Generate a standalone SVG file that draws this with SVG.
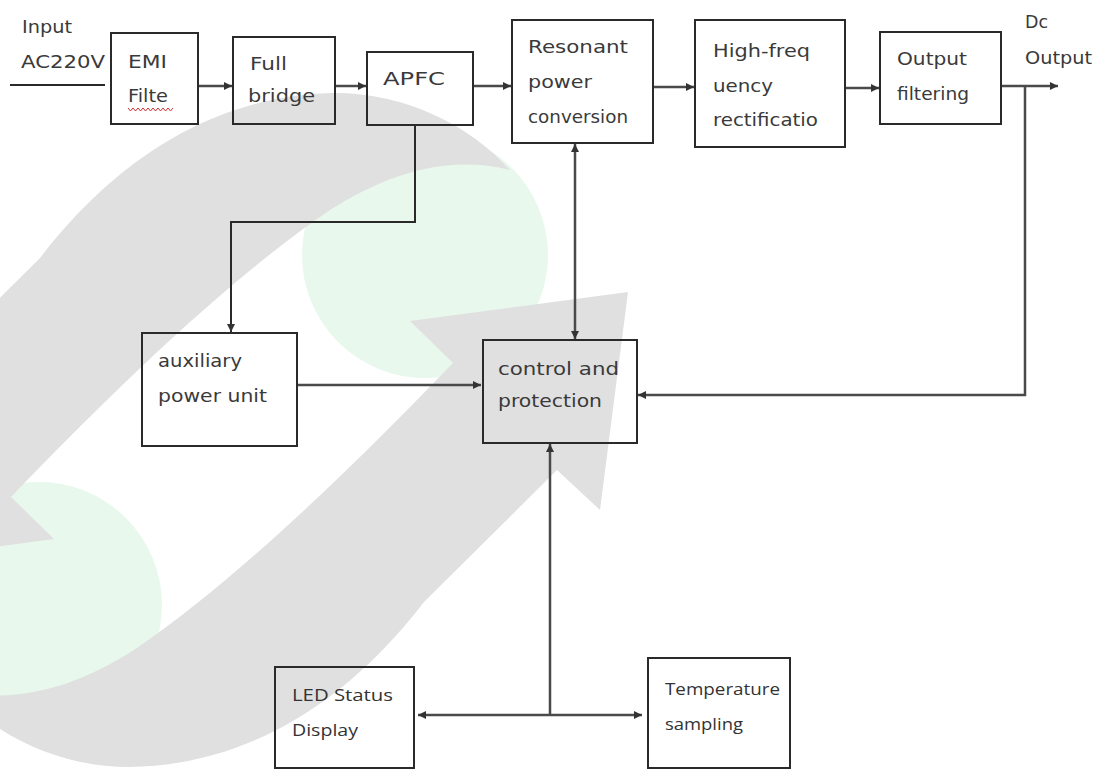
<svg xmlns="http://www.w3.org/2000/svg" width="1102" height="771" viewBox="0 0 1102 771">
<style>
.bg{fill:#ffffff}
.wm{fill:#e0e0e0}
.gr{fill:#e8f8ec}
.box{fill:none;stroke:#2a2a2a;stroke-width:2}
.t{font-family:"DejaVu Sans",Verdana,sans-serif;font-size:17px;fill:#3a3a3a}
.t2{font-family:"Open Sans","DejaVu Sans",sans-serif;font-size:16px;fill:#333}
.c{fill:none;stroke:#4a4a4a;stroke-width:2.5}
.c2{fill:none;stroke:#2a2a2a;stroke-width:2}
</style>
<defs>
<marker id="ah" markerUnits="userSpaceOnUse" markerWidth="10" markerHeight="10" refX="8" refY="4" orient="auto-start-reverse">
<path d="M0,0 L8,4 L0,8 z" fill="#333"/>
</marker>
<path id="band" d="M510 170 C470 125,405 93,335 93 C250 94,140 128,40 258 L-93 390 L-136 350 L-164 568 L54 539 L11 497 C100 405,220 285,330 210 C390 172,450 155,510 170 Z"/>
</defs>
<rect class="bg" x="0" y="0" width="1102" height="771"/>
<g id="watermark">
<circle class="gr" cx="425" cy="255" r="123"/>
<circle class="gr" cx="39" cy="605" r="123"/>
<use href="#band" class="wm"/>
<use href="#band" class="wm" transform="rotate(180 232 430)"/>
</g>
<g id="connectors">
<path class="c2" d="M10 85 H105"/>
<path class="c" d="M198 86 H232" marker-end="url(#ah)"/>
<path class="c" d="M335 86 H366" marker-end="url(#ah)"/>
<path class="c" d="M473 86 H511" marker-end="url(#ah)"/>
<path class="c" d="M653 87 H694" marker-end="url(#ah)"/>
<path class="c" d="M845 88 H879" marker-end="url(#ah)"/>
<path class="c" d="M1001 86 H1058" marker-end="url(#ah)"/>
<path class="c" d="M1025 86 V395 H638" marker-end="url(#ah)"/>
<path class="c2" d="M415 125 V222 H231 V332" marker-end="url(#ah)"/>
<path class="c" d="M575 144 V339" marker-start="url(#ah)" marker-end="url(#ah)"/>
<path class="c" d="M297 385 H481" marker-end="url(#ah)"/>
<path class="c" d="M550 715 V444" marker-end="url(#ah)"/>
<path class="c" d="M418 715 H642" marker-start="url(#ah)" marker-end="url(#ah)"/>
</g>
<g id="input-label">
<text class="t" x="22" y="33" textLength="50" lengthAdjust="spacingAndGlyphs">Input</text>
<text class="t" x="21" y="68" textLength="84" lengthAdjust="spacingAndGlyphs">AC220V</text>
</g>
<g id="emi">
<rect class="box" x="111" y="33" width="87" height="91"/>
<text class="t" x="128" y="68" textLength="39" lengthAdjust="spacingAndGlyphs">EMI</text>
<text class="t" x="128" y="102" textLength="40" lengthAdjust="spacingAndGlyphs">Filte</text>
<path d="M128 108 l2.5 3 l2.5 -3 l2.5 3 l2.5 -3 l2.5 3 l2.5 -3 l2.5 3 l2.5 -3 l2.5 3 l2.5 -3 l2.5 3 l2.5 -3 l2.5 3 l2.5 -3 l2.5 3 l2.5 -3 l2.5 3 l2.5 -3" fill="none" stroke="#d03030" stroke-width="1"/>
</g>
<g id="full-bridge">
<rect class="box" x="233" y="37" width="102" height="87"/>
<text class="t" x="250" y="70" textLength="37" lengthAdjust="spacingAndGlyphs">Full</text>
<text class="t" x="248" y="102" textLength="67" lengthAdjust="spacingAndGlyphs">bridge</text>
</g>
<g id="apfc">
<rect class="box" x="367" y="52" width="106" height="73"/>
<text class="t" x="383" y="85" textLength="62" lengthAdjust="spacingAndGlyphs">APFC</text>
</g>
<g id="resonant">
<rect class="box" x="512" y="20" width="141" height="123"/>
<text class="t" x="528" y="53" textLength="100" lengthAdjust="spacingAndGlyphs">Resonant</text>
<text class="t" x="528" y="88" textLength="64" lengthAdjust="spacingAndGlyphs">power</text>
<text class="t" x="528" y="123" textLength="100" lengthAdjust="spacingAndGlyphs">conversion</text>
</g>
<g id="hf-rect">
<rect class="box" x="695" y="20" width="150" height="127"/>
<text class="t" x="713" y="57" textLength="97" lengthAdjust="spacingAndGlyphs">High-freq</text>
<text class="t" x="713" y="92" textLength="60" lengthAdjust="spacingAndGlyphs">uency</text>
<text class="t" x="713" y="126" textLength="105" lengthAdjust="spacingAndGlyphs">rectificatio</text>
</g>
<g id="output-filtering">
<rect class="box" x="880" y="32" width="121" height="92"/>
<text class="t" x="897" y="65" textLength="70" lengthAdjust="spacingAndGlyphs">Output</text>
<text class="t" x="897" y="100" textLength="72" lengthAdjust="spacingAndGlyphs">filtering</text>
</g>
<g id="dc-output">
<text class="t" x="1025" y="28" textLength="23" lengthAdjust="spacingAndGlyphs">Dc</text>
<text class="t" x="1025" y="64" textLength="67" lengthAdjust="spacingAndGlyphs">Output</text>
</g>
<g id="aux">
<rect class="box" x="142" y="333" width="155" height="113"/>
<text class="t" x="158" y="367" textLength="84" lengthAdjust="spacingAndGlyphs">auxiliary</text>
<text class="t" x="158" y="402" textLength="109" lengthAdjust="spacingAndGlyphs">power unit</text>
</g>
<g id="control">
<rect class="box" x="483" y="340" width="154" height="103"/>
<text class="t" x="498" y="375" textLength="121" lengthAdjust="spacingAndGlyphs">control and</text>
<text class="t" x="498" y="407" textLength="104" lengthAdjust="spacingAndGlyphs">protection</text>
</g>
<g id="led">
<rect class="box" x="275" y="667" width="139" height="101"/>
<text class="t2" x="292" y="701" textLength="101" lengthAdjust="spacingAndGlyphs">LED Status</text>
<text class="t2" x="292" y="736" textLength="66" lengthAdjust="spacingAndGlyphs">Display</text>
</g>
<g id="temp">
<rect class="box" x="648" y="658" width="142" height="110"/>
<text class="t2" x="665" y="695" textLength="115" lengthAdjust="spacingAndGlyphs">Temperature</text>
<text class="t2" x="665" y="730" textLength="78" lengthAdjust="spacingAndGlyphs">sampling</text>
</g>
</svg>
